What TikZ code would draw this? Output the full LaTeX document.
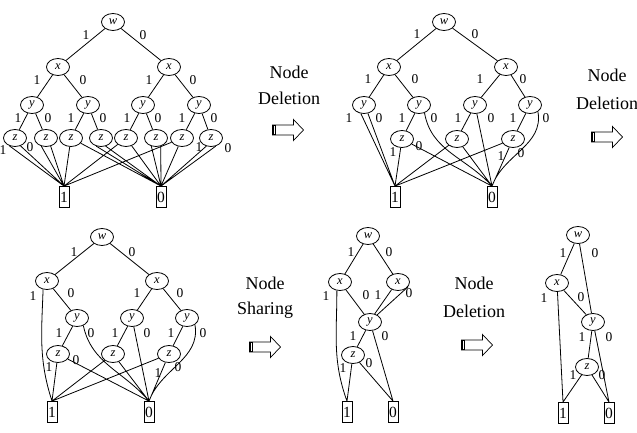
\documentclass[tikz,border=0pt]{standalone}
\usepackage{fontspec}
\setmainfont{Liberation Serif}
\usetikzlibrary{shapes.geometric}
\tikzset{
  bdd/.style={ellipse, draw, line width=0.8pt, minimum width=23pt, minimum height=17pt, inner sep=0pt, font=\fontsize{12.5}{12.5}\selectfont\itshape},
  term/.style={rectangle, draw, line width=0.8pt, minimum width=10pt, minimum height=21pt, inner sep=0pt, font=\fontsize{15.5}{15.5}\selectfont},
  lbl/.style={inner sep=0pt, font=\fontsize{13.5}{13.5}\selectfont},
  ttl/.style={inner sep=0pt, align=center, font=\fontsize{18}{26}\selectfont},
  edge/.style={line width=0.8pt},
  blockarrow/.pic={
    \draw[line width=0.7pt, fill=white] (-15.5,-5) -- (5.5,-5) -- (5.5,-10.5) -- (15.5,0) -- (5.5,10.5) -- (5.5,5) -- (-15.5,5) -- cycle;
    \fill[black] (-15.5,-5) rectangle (-12,5);
    \draw[white, line width=0.5pt] (-13.6,-4.3) -- (-13.6,4.3);
  }
}
\begin{document}
\begin{tikzpicture}[x=1pt, y=1pt]
\useasboundingbox (0,0) rectangle (637,432);
% ---------- Diagram 1 ----------
\node[bdd] (aw) at (113,410) {w};
\node[bdd] (axa) at (58,365) {x};
\node[bdd] (axb) at (169,365) {x};
\node[bdd] (aya) at (32,327) {y};
\node[bdd] (ayb) at (88,327) {y};
\node[bdd] (ayc) at (143,327) {y};
\node[bdd] (ayd) at (199,327) {y};
\node[bdd] (aza) at (15,294) {z};
\node[bdd] (azb) at (46,294) {z};
\node[bdd] (azc) at (71,294) {z};
\node[bdd] (azd) at (101,294) {z};
\node[bdd] (aze) at (126,294) {z};
\node[bdd] (azf) at (156,294) {z};
\node[bdd] (azg) at (182,294) {z};
\node[bdd] (azh) at (211,294) {z};
\node[term] (at1) at (64,235) {1};
\node[term] (at0) at (161,235) {0};
\draw[edge] (aw) -- (axa) (aw) -- (axb) (axa) -- (aya) (axa) -- (ayb) (axb) -- (ayc) (axb) -- (ayd)
  (aya) -- (aza) (aya) -- (azb) (ayb) -- (azc) (ayb) -- (azd) (ayc) -- (aze) (ayc) -- (azf) (ayd) -- (azg) (ayd) -- (azh);
\draw[edge] (aza.235) -- (at1.north) (aza.305) -- (at1.north)
  (azb.240) -- (at1.north) (azb.300) -- (at1.north)
  (azc) -- (at1.north) (azc) -- (at0.north)
  (azd.240) -- (at0.north) (azd.300) -- (at0.north)
  (aze) -- (at1.north) (aze) -- (at0.north)
  (azf.240) -- (at0.north) (azf.300) -- (at0.north)
  (azg) -- (at1.north) (azg) -- (at0.north)
  (azh.240) -- (at0.north) (azh.300) -- (at0.north);
\node[lbl] (al1) at (86,397) {1};
\node[lbl] (al2) at (143,397) {0};
\node[lbl] (al3) at (37,352) {1};
\node[lbl] (al4) at (83,352) {0};
\node[lbl] (al5) at (149,352) {1};
\node[lbl] (al6) at (193,352) {0};
\node[lbl] (al7) at (18,314) {1};
\node[lbl] (al8) at (48,314) {0};
\node[lbl] (al9) at (71,314) {1};
\node[lbl] (al10) at (103,314) {0};
\node[lbl] (al11) at (127,314) {1};
\node[lbl] (al12) at (158,314) {0};
\node[lbl] (al13) at (182,314) {1};
\node[lbl] (al14) at (214,314) {0};
\node[lbl] (al15) at (3,282) {1};
\node[lbl] (al16) at (30,285) {0};
\node[lbl] (al17) at (199,285) {1};
\node[lbl] (al18) at (228,284) {0};
% ---------- Diagram 2 ----------
\node[bdd] (bw) at (444,410) {w};
\node[bdd] (bxa) at (389,365) {x};
\node[bdd] (bxb) at (506,365) {x};
\node[bdd] (bya) at (364,327) {y};
\node[bdd] (byb) at (419,327) {y};
\node[bdd] (byc) at (475,327) {y};
\node[bdd] (byd) at (530,327) {y};
\node[bdd] (bza) at (402,293) {z};
\node[bdd] (bzb) at (457,293) {z};
\node[bdd] (bzc) at (513,293) {z};
\node[term] (bt1) at (395,235) {1};
\node[term] (bt0) at (492,235) {0};
\draw[edge] (bw) -- (bxa) (bw) -- (bxb) (bxa) -- (bya) (bxa) -- (byb) (bxb) -- (byc) (bxb) -- (byd)
  (byb) -- (bza) (byc) -- (bzb) (byd) -- (bzc);
\draw[edge] (bya.250) -- (bt1.north) (bya.295) -- (bt1.north)
  (byb.-55) to[out=-80,in=132] (bt0.north)
  (byc) -- (bt0.north)
  (byd.-40) to[out=-80,in=70] (bt0.north)
  (bza) -- (bt1.north) (bza) -- (bt0.north)
  (bzb) -- (bt1.north) (bzb) -- (bt0.north)
  (bzc) -- (bt1.north) (bzc) -- (bt0.north);
\node[lbl] (bl1) at (417,398) {1};
\node[lbl] (bl2) at (475,398) {0};
\node[lbl] (bl3) at (368,353) {1};
\node[lbl] (bl4) at (415,353) {0};
\node[lbl] (bl5) at (480,353) {1};
\node[lbl] (bl6) at (523,353) {0};
\node[lbl] (bl7) at (349,314) {1};
\node[lbl] (bl8) at (379,314) {0};
\node[lbl] (bl9) at (402,314) {1};
\node[lbl] (bl10) at (434,314) {0};
\node[lbl] (bl11) at (458,314) {1};
\node[lbl] (bl12) at (491,314) {0};
\node[lbl] (bl13) at (513,314) {1};
\node[lbl] (bl14) at (546,314) {0};
\node[lbl] (bl15) at (393,280) {1};
\node[lbl] (bl16) at (419,286) {0};
\node[lbl] (bl17) at (501,276) {1};
\node[lbl] (bl18) at (521,279) {0};
% ---------- Diagram 3 ----------
\node[bdd] (cw) at (102,195) {w};
\node[bdd] (cxa) at (47,151) {x};
\node[bdd] (cxb) at (157,151) {x};
\node[bdd] (cya) at (77,114) {y};
\node[bdd] (cyb) at (132,114) {y};
\node[bdd] (cyc) at (187,114) {y};
\node[bdd] (cza) at (58,78) {z};
\node[bdd] (czb) at (113,78) {z};
\node[bdd] (czc) at (169,78) {z};
\node[term] (ct1) at (52,20) {1};
\node[term] (ct0) at (149,20) {0};
\draw[edge] (cw) -- (cxa) (cw) -- (cxb) (cxa) -- (cya) (cxb) -- (cyb) (cxb) -- (cyc)
  (cya) -- (cza) (cyb) -- (czb) (cyc) -- (czc);
\draw[edge] (cxa.245) to[out=-92,in=108] (ct1.north)
  (cya.-50) to[out=-78,in=130] (ct0.north)
  (cyb) -- (ct0.north)
  (cyc.-40) to[out=-80,in=70] (ct0.north)
  (cza) -- (ct1.north) (cza) -- (ct0.north)
  (czb) -- (ct1.north) (czb) -- (ct0.north)
  (czc) -- (ct1.north) (czc) -- (ct0.north);
\node[lbl] (cl1) at (74,180) {1};
\node[lbl] (cl2) at (132,180) {0};
\node[lbl] (cl3) at (33,136) {1};
\node[lbl] (cl4) at (71,139) {0};
\node[lbl] (cl5) at (137,139) {1};
\node[lbl] (cl6) at (180,139) {0};
\node[lbl] (cl7) at (59,99) {1};
\node[lbl] (cl8) at (91,99) {0};
\node[lbl] (cl9) at (115,99) {1};
\node[lbl] (cl10) at (147,99) {0};
\node[lbl] (cl11) at (171,99) {1};
\node[lbl] (cl12) at (203,99) {0};
\node[lbl] (cl13) at (49,65) {1};
\node[lbl] (cl14) at (76,72) {0};
\node[lbl] (cl15) at (158,59) {1};
\node[lbl] (cl16) at (178,65) {0};
% ---------- Diagram 4 ----------
\node[bdd] (dw) at (368,196) {w};
\node[bdd] (dxa) at (340,150) {x};
\node[bdd] (dxb) at (398,150) {x};
\node[bdd] (dy) at (370,110) {y};
\node[bdd] (dz) at (353,77) {z};
\node[term] (dt1) at (347,20) {1};
\node[term] (dt0) at (393,20) {0};
\draw[edge] (dw) -- (dxa) (dw) -- (dxb)
  (dxa.250) to[out=-90,in=110] (dt1.north)
  (dxa) -- (dy)
  (dxb.230) -- (dy.60) (dxb.-25) -- (dy.45)
  (dy) -- (dz) (dy) -- (dt0.north)
  (dz) -- (dt1.north) (dz) -- (dt0.north);
\node[lbl] (dl1) at (351,180) {1};
\node[lbl] (dl2) at (389,180) {0};
\node[lbl] (dl3) at (326,136) {1};
\node[lbl] (dl4) at (366,137) {0};
\node[lbl] (dl5) at (378,137) {1};
\node[lbl] (dl6) at (409,139) {0};
\node[lbl] (dl7) at (353,96) {1};
\node[lbl] (dl8) at (385,96) {0};
\node[lbl] (dl9) at (343,64) {1};
\node[lbl] (dl10) at (369,69) {0};
% ---------- Diagram 5 ----------
\node[bdd] (ew) at (578,197) {w};
\node[bdd] (ex) at (557,149) {x};
\node[bdd] (ey) at (593,110) {y};
\node[bdd] (ez) at (587,65) {z};
\node[term] (et1) at (563,19) {1};
\node[term] (et0) at (609,19) {0};
\draw[edge] (ew) -- (ex) (ew) -- (ey)
  (ex) -- (et1.north) (ex) -- (ey)
  (ey) -- (ez) (ey) -- (et0.north)
  (ez) -- (et1.north) (ez) -- (et0.north);
\node[lbl] (el1) at (563,179) {1};
\node[lbl] (el2) at (595,179) {0};
\node[lbl] (el3) at (544,134) {1};
\node[lbl] (el4) at (581,135) {0};
\node[lbl] (el5) at (582,95) {1};
\node[lbl] (el6) at (609,95) {0};
\node[lbl] (el7) at (573,57) {1};
\node[lbl] (el8) at (602,57) {0};
% ---------- Titles and arrows ----------
\node[ttl] (t1a) at (289,360) {Node};
\node[ttl] (t1b) at (289,334) {Deletion};
\path (288,302) pic {blockarrow};
\node[ttl] (t2a) at (607,357) {Node};
\node[ttl] (t2b) at (607,329) {Deletion};
\path (607,295) pic {blockarrow};
\node[ttl] (t3a) at (265,149) {Node};
\node[ttl] (t3b) at (265,122) {Sharing};
\path (265,85) pic {blockarrow};
\node[ttl] (t4a) at (474,149) {Node};
\node[ttl] (t4b) at (474,121) {Deletion};
\path (477,87) pic {blockarrow};
\end{tikzpicture}
\end{document}
